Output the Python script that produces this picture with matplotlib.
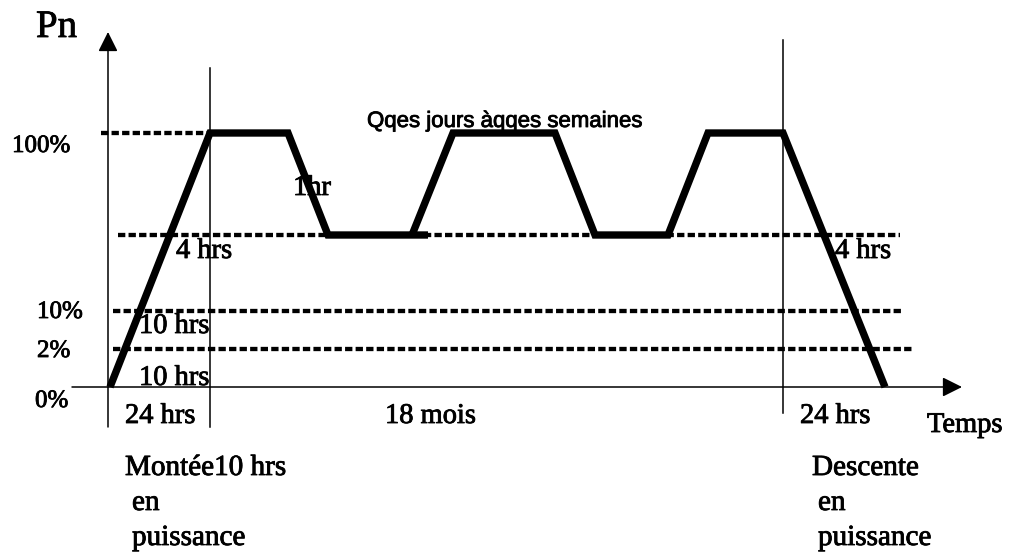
import matplotlib.pyplot as plt
import matplotlib.patheffects as pe

# Schematic drawn in picture units (x to the right, y downwards)
W, H = 1009, 554

# power profile: main polyline and the short overshoot of the first low plateau
profile_x = [110, 210, 288, 328, 428]
profile_y = [387, 133, 133, 235, 235]
profile2_x = [412, 453, 555, 595, 668, 708, 783, 885]
profile2_y = [235, 133, 133, 235, 235, 133, 133, 387]

# dotted reference levels
dot_y = [133, 235, 311, 349]
dot_x0 = [101, 118, 113, 113]
dot_x1 = [210, 900, 901, 912]

# thin vertical markers
vline_x = [210, 783]
vline_top = [68, 40]
vline_bot = [427, 413]

# axes
x_axis_y = 387
y_axis_x = 108

# labels: text, x, baseline y, size
serif_labels = [
    ("Pn", 36, 37, 28),
    ("100%", 12, 152, 18),
    ("10%", 37, 318, 18),
    ("2%", 37, 357, 18),
    ("0%", 35, 407, 18),
    ("4 hrs", 176, 258, 20.5),
    ("10 hrs", 139, 333, 20.5),
    ("10 hrs", 139, 385, 20.5),
    ("24 hrs", 125, 423, 20.5),
    ("1hr", 293, 195, 20.5),
    ("18 mois", 385, 423, 20.5),
    ("4 hrs", 835, 258, 20.5),
    ("24 hrs", 800, 423, 20.5),
    ("Temps", 927, 432, 20.5),
    ("Montée10 hrs", 125, 475, 21),
    ("en", 132, 510, 21),
    ("puissance", 132, 545, 21),
    ("Descente", 812, 475, 21),
    ("en", 818, 510, 21),
    ("puissance", 818, 545, 21),
]
note_text = "Qqes jours àqqes semaines"
note_pos = (367, 127)

fig = plt.figure(figsize=(W / 100, H / 100), dpi=100)
ax = fig.add_axes([0, 0, 1, 1])
ax.set_xlim(0, W)
ax.set_ylim(H, 0)
ax.axis('off')

# axes with arrow heads
ax.annotate('', xy=(962, x_axis_y), xytext=(72, x_axis_y),
            arrowprops=dict(arrowstyle='-|>', color='black', lw=1.1,
                            mutation_scale=30, shrinkA=0, shrinkB=0))
ax.annotate('', xy=(y_axis_x, 32), xytext=(y_axis_x, 427),
            arrowprops=dict(arrowstyle='-|>', color='black', lw=1.1,
                            mutation_scale=30, shrinkA=0, shrinkB=0))

for x, t, b in zip(vline_x, vline_top, vline_bot):
    ax.plot([x, x], [t, b], color='black', lw=1.1)

for y, x0, x1 in zip(dot_y, dot_x0, dot_x1):
    ax.plot([x0, x1], [y, y], color='black', lw=3.1,
            dashes=(1.7, 0.75), dash_capstyle='butt')

ax.plot(profile_x, profile_y, color='black', lw=5.3,
        solid_joinstyle='miter', solid_capstyle='butt')
ax.plot(profile2_x, profile2_y, color='black', lw=5.3,
        solid_joinstyle='miter', solid_capstyle='butt')

bold = [pe.withStroke(linewidth=0.6, foreground='black')]
for txt, x, y, s in serif_labels:
    ax.text(x, y, txt, fontsize=s, family='Liberation Serif',
            ha='left', va='baseline', color='black', path_effects=bold)

ax.text(note_pos[0], note_pos[1], note_text, fontsize=16,
        family='Liberation Sans', ha='left', va='baseline', color='black',
        path_effects=bold)

fig.savefig('out.png', dpi=100)
